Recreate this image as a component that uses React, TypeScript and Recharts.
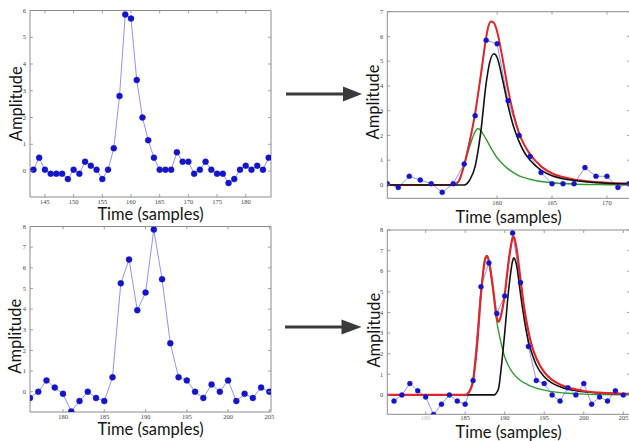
import React from "react";
import { LineChart, Line, XAxis, YAxis, ReferenceArea } from "recharts";

// first recorded pulse (samples 143..184)
const pulseATime = [143, 144, 145, 146, 147, 148, 149, 150, 151, 152, 153, 154, 155, 156, 157, 158, 159, 160, 161, 162, 163, 164, 165, 166, 167, 168, 169, 170, 171, 172, 173, 174, 175, 176, 177, 178, 179, 180, 181, 182, 183, 184];
const pulseAAmp = [0.05, 0.5, 0.05, -0.1, -0.1, -0.1, -0.3, 0.05, -0.1, 0.35, 0.2, 0.05, -0.3, 0.05, 0.85, 2.8, 5.85, 5.7, 3.4, 2.0, 1.15, 0.5, 0.05, 0.05, 0.05, 0.7, 0.35, 0.35, -0.1, 0.05, 0.35, 0.05, -0.1, -0.1, -0.45, -0.3, 0.05, 0.2, 0.05, 0.2, 0.05, 0.5];

// second recorded pulse (samples 176..205), two overlapping peaks
const pulseBTime = [176, 177, 178, 179, 180, 181, 182, 183, 184, 185, 186, 187, 188, 189, 190, 191, 192, 193, 194, 195, 196, 197, 198, 199, 200, 201, 202, 203, 204, 205];
const pulseBAmp = [-0.3, 0.0, 0.55, 0.2, -0.1, -0.95, -0.45, 0.0, -0.3, -0.45, 0.7, 5.25, 6.4, 3.95, 4.8, 7.85, 5.45, 2.35, 0.7, 0.55, 0.0, -0.3, 0.35, 0.0, 0.55, -0.45, -0.1, -0.3, 0.2, 0.0];

// fit of pulse A: total, main component, early component
const fitASumTime = [150, 156, 156.5, 157, 157.5, 158, 158.5, 159, 159.2, 159.45, 159.7, 160, 160.5, 161, 161.5, 162, 162.5, 163, 164, 165, 166, 167, 168, 170, 172.2];
const fitASumAmp = [0, 0, 0.15, 0.8, 1.75, 2.9, 4.4, 5.95, 6.4, 6.6, 6.55, 6.2, 5.1, 3.85, 2.85, 2.1, 1.6, 1.25, 0.75, 0.47, 0.32, 0.22, 0.16, 0.09, 0.06];
const fitAMainTime = [150, 157, 157.5, 158, 158.5, 159, 159.3, 159.7, 160, 160.5, 161, 161.5, 162, 162.5, 163, 164, 165, 166, 167, 168, 170, 172.2];
const fitAMainAmp = [0, 0, 0.2, 0.75, 2.1, 4.1, 4.9, 5.3, 5.15, 4.25, 3.2, 2.35, 1.75, 1.3, 1.0, 0.6, 0.37, 0.25, 0.18, 0.13, 0.07, 0.05];
const fitAEarlyTime = [150, 156, 156.5, 157, 157.5, 158, 158.25, 158.5, 159, 159.5, 160, 160.5, 161, 162, 163, 164, 165, 166, 168, 170, 172.2];
const fitAEarlyAmp = [0, 0, 0.15, 0.8, 1.55, 2.15, 2.28, 2.2, 1.85, 1.45, 1.1, 0.85, 0.65, 0.37, 0.23, 0.14, 0.09, 0.06, 0.02, 0.01, 0];

// fit of pulse B
const fitBSumTime = [175.2, 185, 185.5, 186, 186.5, 187, 187.5, 187.75, 188, 188.5, 189, 189.25, 189.5, 190, 190.5, 191, 191.15, 191.5, 192, 192.5, 193, 193.5, 194, 195, 196, 197, 198, 199, 200, 202, 204, 205.8];
const fitBSumAmp = [0, 0, 0.15, 0.7, 2.4, 4.9, 6.55, 6.75, 6.5, 5.25, 3.75, 3.55, 3.8, 4.85, 6.5, 7.6, 7.68, 7.1, 5.6, 4.15, 3.08, 2.3, 1.78, 1.11, 0.73, 0.51, 0.36, 0.27, 0.19, 0.11, 0.07, 0.05];
const fitBLateTime = [175.2, 188.7, 189, 189.25, 189.5, 190, 190.5, 191, 191.15, 191.5, 192, 192.5, 193, 193.5, 194, 195, 196, 197, 198, 199, 200, 202, 204, 205.8];
const fitBLateAmp = [0, 0, 0.12, 0.35, 1.1, 3.0, 5.1, 6.5, 6.65, 6.3, 4.9, 3.6, 2.6, 1.95, 1.45, 0.88, 0.57, 0.4, 0.28, 0.21, 0.15, 0.09, 0.06, 0.05];
const fitBEarlyTime = [175.2, 185, 185.5, 186, 186.5, 187, 187.5, 187.75, 188, 188.5, 189, 189.5, 190, 190.5, 191, 192, 193, 194, 195, 196, 197, 198, 200, 202, 205.8];
const fitBEarlyAmp = [0, 0, 0.15, 0.7, 2.4, 4.9, 6.55, 6.75, 6.5, 5.15, 3.55, 2.6, 1.85, 1.4, 1.08, 0.7, 0.48, 0.33, 0.23, 0.16, 0.11, 0.08, 0.04, 0.02, 0];

const ticksA = [145, 150, 155, 160, 165, 170, 175, 180];
const ticksAZoom = [160, 165, 170];
const ticksB = [180, 185, 190, 195, 200, 205];
const ampTicks6 = [0, 1, 2, 3, 4, 5, 6];
const ampTicks7 = [0, 1, 2, 3, 4, 5, 6, 7];
const ampTicks8 = [0, 1, 2, 3, 4, 5, 6, 7, 8];

const pairs = (ts: number[], vs: number[]) => ts.map((t, i) => ({ t, v: vs[i] }));

const TITLE_FONT = "Lato, 'Open Sans', sans-serif";
const TICK_FONT = "'Liberation Serif', 'DejaVu Serif', serif";
const FRAME = "#8c8c8c";

const DOT_BLUE = "#1414c8";
const LINK_BLUE = "#7676ee";

function Panel(props: any) {
  const {
    left, top, width, height, margin, yAxisWidth, xAxisHeight,
    xDomain, yDomain, xTicks, yTicks, titleOffset, ampX, ampShift, fadedTick, children,
  } = props;
  const tickGap = props.tickGap ?? 7;
  const plotTop = margin.top;
  const plotBottom = height - margin.bottom - xAxisHeight;
  const plotLeft = margin.left + yAxisWidth;
  const plotRight = width - margin.right;

  const xTick = (p: any) => (
    <g>
      <line x1={p.x} x2={p.x} y1={plotBottom} y2={plotBottom - 3} stroke={FRAME} strokeWidth={0.8} />
      <line x1={p.x} x2={p.x} y1={plotTop} y2={plotTop + 3} stroke={FRAME} strokeWidth={0.8} />
      <text
        x={p.x}
        y={plotBottom + tickGap}
        textAnchor="middle"
        fontFamily={TICK_FONT}
        fontSize={6.5}
        fill="#444"
        opacity={p.payload.value === fadedTick ? 0.35 : 1}
      >
        {p.payload.value}
      </text>
    </g>
  );

  const yTick = (p: any) => (
    <g>
      <line x1={plotLeft} x2={plotLeft + 3} y1={p.y} y2={p.y} stroke={FRAME} strokeWidth={0.8} />
      <line x1={plotRight} x2={plotRight - 3} y1={p.y} y2={p.y} stroke={FRAME} strokeWidth={0.8} />
      <text x={plotLeft - 4} y={p.y + 2.2} textAnchor="end" fontFamily={TICK_FONT} fontSize={6.5} fill="#444">
        {p.payload.value}
      </text>
    </g>
  );

  const timeTitle = (p: any) => {
    const vb = p.viewBox || { x: plotLeft, y: plotBottom, width: plotRight - plotLeft, height: xAxisHeight };
    return (
      <text
        x={vb.x + vb.width / 2}
        y={vb.y + vb.height - titleOffset}
        textAnchor="middle"
        fontFamily={TITLE_FONT}
        fontSize={16.5}
        fill="#151515"
      >
        Time (samples)
      </text>
    );
  };

  const ampTitle = () => {
    const cx = ampX;
    const cy = (plotTop + plotBottom) / 2 + ampShift;
    return (
      <text
        x={cx}
        y={cy}
        transform={`rotate(-90 ${cx} ${cy})`}
        textAnchor="middle"
        dominantBaseline="central"
        fontFamily={TITLE_FONT}
        fontSize={16.5}
        fill="#151515"
      >
        Amplitude
      </text>
    );
  };

  return (
    <div style={{ position: "absolute", left, top }}>
      <LineChart width={width} height={height} margin={margin} style={{ overflow: "visible" }}>
        <XAxis
          type="number"
          dataKey="t"
          domain={xDomain}
          ticks={xTicks}
          interval={0}
          allowDataOverflow
          height={xAxisHeight}
          axisLine={false}
          tickLine={false}
          tick={xTick}
          label={{ content: timeTitle }}
        />
        <YAxis
          type="number"
          domain={yDomain}
          ticks={yTicks}
          interval={0}
          allowDataOverflow
          width={yAxisWidth}
          axisLine={false}
          tickLine={false}
          tick={yTick}
          label={{ content: ampTitle }}
        />
        <ReferenceArea
          x1={xDomain[0]}
          x2={xDomain[1]}
          y1={yDomain[0]}
          y2={yDomain[1]}
          fill="none"
          stroke={FRAME}
          strokeWidth={1}
          ifOverflow="visible"
        />
        {children}
      </LineChart>
    </div>
  );
}

const samples = (data: any[], r: number) => (
  <Line
    data={data}
    dataKey="v"
    type="linear"
    stroke={LINK_BLUE}
    strokeWidth={0.8}
    dot={{ r, fill: DOT_BLUE, stroke: DOT_BLUE, strokeWidth: 0.4 }}
    activeDot={false}
    isAnimationActive={false}
  />
);

const fit = (data: any[], color: string, w: number) => (
  <Line
    data={data}
    dataKey="v"
    type="monotone"
    stroke={color}
    strokeWidth={w}
    dot={false}
    activeDot={false}
    isAnimationActive={false}
  />
);

const pulseA = pairs(pulseATime, pulseAAmp);
const pulseB = pairs(pulseBTime, pulseBAmp);
const pulseAWindow = pulseA.filter((d) => d.t >= 150 && d.t <= 172);

const RED = "#e0262a";
const GREEN = "#2f9a32";
const BLACK = "#111111";

export default function App() {
  return (
    <div style={{ position: "absolute", left: 0, top: 0, width: 629, height: 441, overflow: "hidden", background: "#fff" }}>
      {/* raw pulse A */}
      <Panel
        left={0} top={0} width={280} height={228}
        margin={{ top: 10.5, right: 9, left: 0, bottom: 0 }}
        yAxisWidth={30} xAxisHeight={31}
        xDomain={[142.4, 184.4]} yDomain={[-0.97, 6]}
        xTicks={ticksA} yTicks={ampTicks6}
        titleOffset={8} ampX={16} ampShift={0}
      >
        {samples(pulseA, 3)}
      </Panel>

      {/* raw pulse B */}
      <Panel
        left={0} top={222} width={280} height={219}
        margin={{ top: 4.5, right: 9, left: 0, bottom: 0 }}
        yAxisWidth={30} xAxisHeight={29}
        xDomain={[176, 205.2]} yDomain={[-0.98, 8]}
        xTicks={ticksB} yTicks={ampTicks8}
        titleOffset={6.5} ampX={15} ampShift={17}
      >
        {samples(pulseB, 3)}
      </Panel>

      {/* fitted pulse A */}
      <Panel
        left={340} top={0} width={290} height={228}
        margin={{ top: 11.7, right: 0, left: 0, bottom: 0 }}
        yAxisWidth={47.3} xAxisHeight={29.7}
        xDomain={[150, 172.1]} yDomain={[-0.54, 7]}
        xTicks={ticksAZoom} yTicks={ampTicks7}
        titleOffset={5} ampX={33} ampShift={-3}
      >
        {samples(pulseAWindow, 2.5)}
        {fit(pairs(fitAEarlyTime, fitAEarlyAmp), GREEN, 1.4)}
        {fit(pairs(fitASumTime, fitASumAmp), RED, 2)}
        {fit(pairs(fitAMainTime, fitAMainAmp), BLACK, 1.6)}
      </Panel>

      {/* fitted pulse B */}
      <Panel
        left={340} top={222} width={290} height={219}
        margin={{ top: 8, right: 0, left: 0, bottom: 0 }}
        yAxisWidth={47.3} xAxisHeight={26.7}
        xDomain={[175.15, 205.85]} yDomain={[-0.94, 8]}
        xTicks={ticksB} yTicks={ampTicks8}
        titleOffset={3.5} tickGap={5.5} ampX={34} ampShift={8} fadedTick={180}
      >
        {samples(pulseB, 2.5)}
        {fit(pairs(fitBEarlyTime, fitBEarlyAmp), GREEN, 1.4)}
        {fit(pairs(fitBLateTime, fitBLateAmp), BLACK, 1.6)}
        {fit(pairs(fitBSumTime, fitBSumAmp), RED, 2.2)}
      </Panel>

      {/* arrows from raw to fitted */}
      <svg width={629} height={441} style={{ position: "absolute", left: 0, top: 0, pointerEvents: "none" }}>
        <line x1={286} y1={94} x2={345} y2={94} stroke="#3a3a3a" strokeWidth={3} />
        <polygon points="343,86.5 362,94 343,101.5" fill="#3a3a3a" />
        <line x1={285} y1={327} x2={343} y2={327} stroke="#3a3a3a" strokeWidth={3} />
        <polygon points="341.5,319.5 361.5,327 341.5,334.5" fill="#3a3a3a" />
      </svg>
    </div>
  );
}
